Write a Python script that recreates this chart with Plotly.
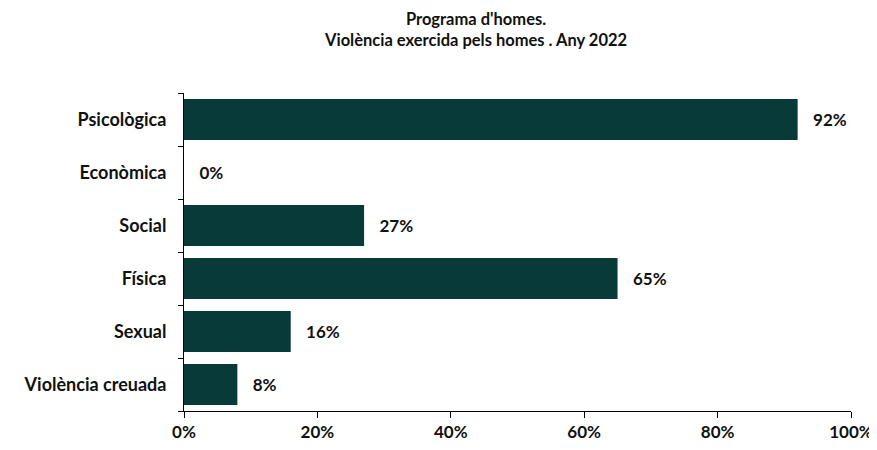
import plotly.graph_objects as go

categories = ["Psicològica", "Econòmica", "Social", "Física", "Sexual", "Violència creuada"]
values = [92, 0, 27, 65, 16, 8]
tick_vals = [0, 20, 40, 60, 80, 100]
tick_text = ["0%", "20%", "40%", "60%", "80%", "100%"]

FONT = "Lato, 'Open Sans', sans-serif"
TXT = "#111111"

fig = go.Figure(go.Bar(
    y=categories,
    x=values,
    orientation="h",
    marker=dict(color="#093a3a", line=dict(width=0)),
    text=[f"   {v}%" for v in values],
    textposition="outside",
    cliponaxis=False,
    textfont=dict(family=FONT, size=17, color=TXT, weight="bold"),
    width=0.77,
))

# the page body adds an 8px offset, so the figure is sized to fill the rest
fig.update_layout(
    width=869,
    height=442,
    paper_bgcolor="white",
    plot_bgcolor="white",
    margin=dict(l=176, r=26, t=85, b=39),
    font=dict(family=FONT, size=17, color=TXT),
    title=dict(
        text="<b>Programa d'homes.<br>Violència exercida pels homes . Any 2022</b>",
        x=0.5386, xanchor="center", y=0.962, yanchor="top",
        font=dict(family=FONT, size=16.5, color=TXT),
    ),
    showlegend=False,
)

fig.update_xaxes(
    range=[0, 100],
    tickvals=tick_vals,
    ticktext=tick_text,
    automargin=False,
    showgrid=False,
    zeroline=False,
    showline=True,
    linecolor="black",
    linewidth=1,
    ticks="outside",
    ticklen=6,
    tickcolor="black",
    tickfont=dict(family=FONT, size=17, color=TXT, weight="bold"),
)
fig.update_yaxes(
    categoryorder="array",
    categoryarray=categories[::-1],
    automargin=False,
    showgrid=False,
    zeroline=False,
    showline=True,
    linecolor="black",
    linewidth=1,
    ticks="outside",
    ticklen=5,
    tickcolor="black",
    tickson="boundaries",
    tickfont=dict(family=FONT, size=18, color=TXT, weight="bold"),
    ticklabelstandoff=13,
)

fig.write_html("out.html")
